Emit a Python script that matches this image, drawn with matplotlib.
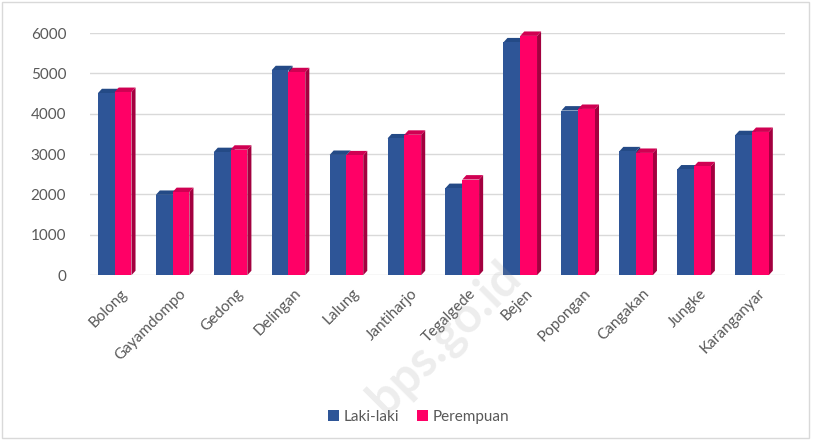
import numpy as np
import matplotlib
matplotlib.use("Agg")
import matplotlib.pyplot as plt
from matplotlib.patches import Polygon, Rectangle

# data
desa = ['Bolong', 'Gayamdompo', 'Gedong', 'Delingan', 'Lalung', 'Jantiharjo',
        'Tegalgede', 'Bejen', 'Popongan', 'Cangakan', 'Jungke', 'Karanganyar']
laki = [4510, 1990, 3050, 5080, 2980, 3390, 2160, 5770, 4080, 3070, 2620, 3470]
perempuan = [4540, 2060, 3110, 5030, 2970, 3480, 2370, 5930, 4120, 3030, 2700, 3550]
yticks = [0, 1000, 2000, 3000, 4000, 5000, 6000]

plt.rcParams['font.family'] = ['Lato', 'DejaVu Sans']

fig = plt.figure(figsize=(8.16, 4.41), dpi=100)
fig.patches.append(Rectangle((0.002, 0.006), 0.99, 0.99, transform=fig.transFigure,
                             fill=False, edgecolor='#D9D9D9', linewidth=1))
ax = fig.add_axes([0.110, 0.376, 0.852, 0.549])

w = 0.29
dx, dy = 0.07, 110   # depth of the 3D bars
x = np.arange(len(desa)) - 0.07

def bar3d(xc, h, front, side, top):
    x0, x1 = xc - w / 2, xc + w / 2
    ax.add_patch(Polygon([[x0, 0], [x1, 0], [x1, h], [x0, h]], closed=True,
                         facecolor=front, edgecolor='none', zorder=3, clip_on=False))
    ax.add_patch(Polygon([[x1, 0], [x1 + dx, dy], [x1 + dx, h + dy], [x1, h]], closed=True,
                         facecolor=side, edgecolor='none', zorder=2, clip_on=False))
    ax.add_patch(Polygon([[x0, h], [x1, h], [x1 + dx, h + dy], [x0 + dx, h + dy]], closed=True,
                         facecolor=top, edgecolor='none', zorder=2, clip_on=False))

for i in range(len(desa)):
    bar3d(x[i] - w / 2, laki[i], '#2E5597', '#1E3C6E', '#244A86')
    bar3d(x[i] + w / 2, perempuan[i], '#FF0066', '#A3003F', '#D00052')

for v in yticks:
    ax.axhline(v, color='#D9D9D9', linewidth=1.0, zorder=1)

ax.set_xlim(-0.5, 11.5)
ax.set_ylim(0, 6000)
ax.set_yticks(yticks)
ax.set_xticks(x + 0.1)
ax.set_xticklabels(desa, rotation=45, ha='right', rotation_mode='anchor')
ax.tick_params(axis='both', length=0, labelsize=11, labelcolor='#595959')
ax.tick_params(axis='y', pad=17)
ax.tick_params(axis='x', pad=8)
for s in ax.spines.values():
    s.set_visible(False)

h1 = Rectangle((0, 0), 1, 1, facecolor='#2E5597')
h2 = Rectangle((0, 0), 1, 1, facecolor='#FF0066')
fig.legend([h1, h2], ['Laki-laki', 'Perempuan'], loc='center', bbox_to_anchor=(0.513, 0.055),
           ncol=2, frameon=False, fontsize=11, handlelength=0.7, handleheight=0.7,
           handletextpad=0.3, columnspacing=1.2, labelcolor='#595959')

# faint watermark
fig.text(0.545, 0.235, 'bps.go.id', rotation=45, fontsize=35, fontweight='bold',
         color='#9A9A9A', alpha=0.18, ha='center', va='center')

fig.savefig('out.png', dpi=100)
